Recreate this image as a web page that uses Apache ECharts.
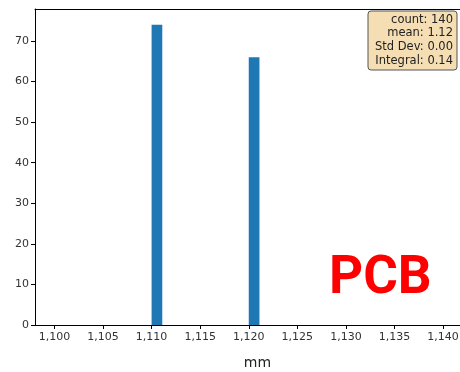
<!DOCTYPE html>
<html>
<head>
<meta charset="utf-8">
<script src="https://cdn.jsdelivr.net/npm/echarts@6/dist/echarts.min.js"></script>
<style>
  html, body { margin: 0; padding: 0; background: #fff; }
  #main { width: 460px; height: 372px; }
</style>
</head>
<body>
<div id="main"></div>
<script>
// histogram bins (left edge, mm) and counts
var binStart = [1.110, 1.120];
var binWidth = 0.0011;
var counts = [74, 66];
// tick labels
var xTicks = [1.100, 1.105, 1.110, 1.115, 1.120, 1.125, 1.130, 1.135, 1.140];
var yTicks = [0, 10, 20, 30, 40, 50, 60, 70];
// stats box text
var statLines = ['count: 140', 'mean: 1.12', 'Std Dev: 0.00', 'Integral: 0.14'];

var chart = echarts.init(document.getElementById('main'));

var barData = binStart.map(function (s, i) {
  return [s, s + binWidth, counts[i]];
});

var option = {
  backgroundColor: '#fff',
  animation: false,
  grid: {
    left: 35, right: -20, top: 9, bottom: 47,
    outerBoundsMode: 'none',
    show: false
  },
  xAxis: [{
    type: 'value',
    min: 1.098, max: 1.1438,
    name: 'mm',
    nameLocation: 'middle',
    nameGap: 31,
    nameTextStyle: { fontFamily: 'DejaVu Sans', fontSize: 14, color: '#222' },
    axisLine: { lineStyle: { color: '#000' } },
    axisTick: { customValues: xTicks, length: 4, lineStyle: { color: '#000' } },
    axisLabel: {
      customValues: xTicks,
      fontFamily: 'DejaVu Sans', fontSize: 11, color: '#333', margin: 7,
      formatter: function (v) { return v.toFixed(3).replace('.', ','); }
    },
    splitLine: { show: false }
  }, {
    // top spine only
    type: 'value',
    position: 'top',
    min: 1.098, max: 1.1438,
    axisLine: { show: true, lineStyle: { color: '#000' } },
    axisTick: { show: false },
    axisLabel: { show: false },
    splitLine: { show: false }
  }],
  yAxis: {
    type: 'value',
    min: 0, max: 77.9,
    axisLine: { show: true, lineStyle: { color: '#000' } },
    axisTick: { show: true, customValues: yTicks, length: 4, lineStyle: { color: '#000' } },
    axisLabel: {
      customValues: yTicks,
      fontFamily: 'DejaVu Sans', fontSize: 11, color: '#333', margin: 6
    },
    splitLine: { show: false }
  },
  series: [{
    type: 'custom',
    data: barData,
    renderItem: function (params, api) {
      var p0 = api.coord([api.value(0), api.value(2)]);
      var p1 = api.coord([api.value(1), 0]);
      return {
        type: 'rect',
        shape: { x: p0[0], y: p0[1], width: p1[0] - p0[0], height: p1[1] - p0[1] },
        style: { fill: '#1f77b4' }
      };
    }
  }],
  graphic: [
    {
      type: 'rect',
      x: 368, y: 11,
      shape: { width: 89, height: 59, r: 3 },
      style: { fill: '#f5deb3', stroke: '#555', lineWidth: 1 }
    },
    {
      type: 'text',
      x: 453, y: 13,
      style: {
        text: statLines.join('\n'),
        align: 'right',
        verticalAlign: 'top',
        fontFamily: 'DejaVu Sans', fontSize: 11.5, lineHeight: 13.6,
        fill: '#222'
      }
    },
    {
      type: 'text',
      x: 329, y: 253,
      style: {
        text: 'PCB',
        fontFamily: 'Roboto', fontWeight: 'bold', fontSize: 53,
        fill: '#ff0000'
      }
    }
  ]
};

chart.setOption(option);
</script>
</body>
</html>
